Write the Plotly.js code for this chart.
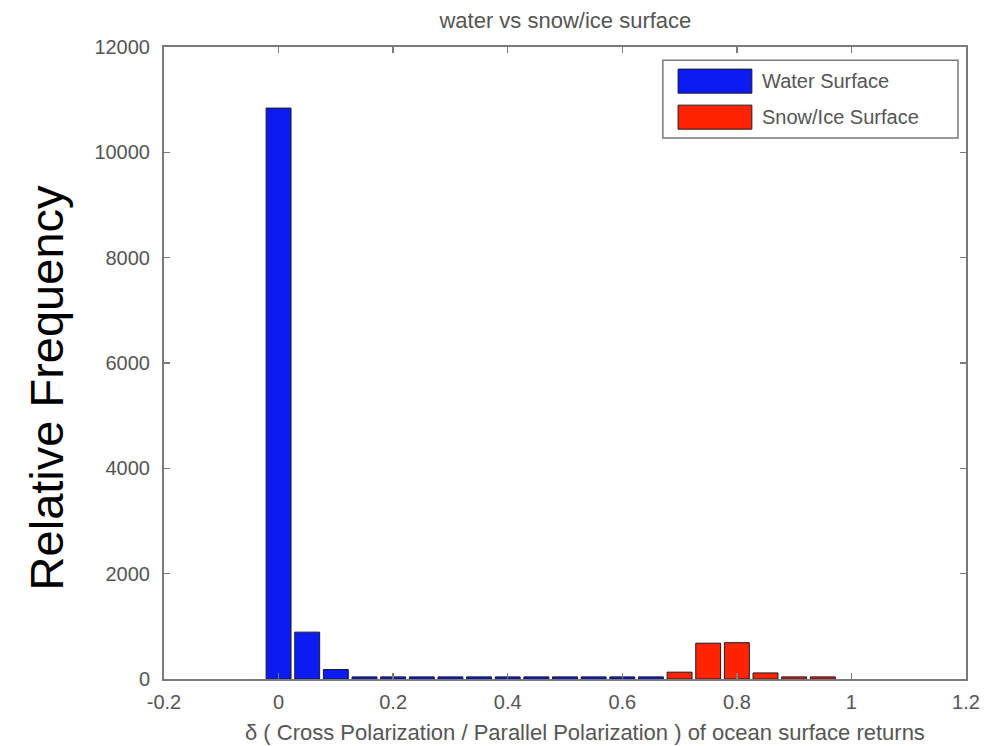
<!DOCTYPE html>
<html>
<head>
<meta charset="utf-8">
<script src="https://cdn.plot.ly/plotly-3.0.1.min.js"></script>
<style>html,body{margin:0;padding:0;background:#fff;}#chart{width:998px;height:746px;}</style>
</head>
<body>
<div id="chart"></div>
<script>
// ---- data ----
const chartTitle = "water vs snow/ice surface";
const xTitle = "\u03b4 ( Cross Polarization / Parallel Polarization ) of ocean surface returns";
const yTitle = "Relative Frequency";
const waterName = "Water Surface";
const snowName = "Snow/Ice Surface";
const waterBins = [0, 0.05, 0.1, 0.15, 0.2, 0.25, 0.3, 0.35, 0.4, 0.45, 0.5, 0.55, 0.6, 0.65];
const waterCounts = [10840, 890, 180, 40, 40, 40, 40, 40, 40, 40, 40, 40, 40, 40];
const snowBins = [0.7, 0.75, 0.8, 0.85, 0.9, 0.95];
const snowCounts = [130, 680, 690, 115, 40, 40];
const xTicks = [-0.2, 0, 0.2, 0.4, 0.6, 0.8, 1, 1.2];
const xTickText = ["-0.2", "0", "0.2", "0.4", "0.6", "0.8", "1", "1.2"];
const yTicks = [0, 2000, 4000, 6000, 8000, 10000, 12000];
const yTickText = ["0", "2000", "4000", "6000", "8000", "10000", "12000"];

// ---- style ----
const blue = "rgb(12,28,240)";
const red = "rgb(255,36,0)";
const edge = "rgb(25,25,45)";
const axisGrey = "#7a7a7a";
const textGrey = "#555555";
const fontFam = "'Liberation Sans', Arial, sans-serif";

const traces = [
  {type: "bar", x: waterBins, y: waterCounts, name: waterName,
   marker: {color: blue, line: {color: edge, width: 1}}, hoverinfo: "x+y"},
  {type: "bar", x: snowBins, y: snowCounts, name: snowName,
   marker: {color: red, line: {color: edge, width: 1}}, hoverinfo: "x+y"}
];

// legend geometry (paper coords)
const lg = {x0: 0.622, x1: 0.990, y0: 0.856, y1: 0.979};
const layout = {
  width: 998, height: 746,
  margin: {l: 164, r: 32, t: 47, b: 67, pad: 0},
  paper_bgcolor: "#fff", plot_bgcolor: "#fff",
  showlegend: false,
  barmode: "overlay", bargap: 0.13,
  font: {family: fontFam, size: 20, color: textGrey},
  title: {text: chartTitle, x: 0.5665, xanchor: "center", y: 0.973, yanchor: "middle",
          font: {family: fontFam, size: 22, color: textGrey}},
  xaxis: {range: [-0.2, 1.2], tickvals: xTicks, ticktext: xTickText,
          ticks: "inside", ticklen: 6, tickwidth: 1.5, tickcolor: axisGrey,
          showline: true, linecolor: axisGrey, linewidth: 2, mirror: "ticks",
          showgrid: false, zeroline: false, ticklabelstandoff: 4,
          tickfont: {size: 20, color: textGrey}},
  yaxis: {range: [0, 12000], tickvals: yTicks, ticktext: yTickText,
          ticks: "inside", ticklen: 6, tickwidth: 1.5, tickcolor: axisGrey,
          showline: true, linecolor: axisGrey, linewidth: 2, mirror: "ticks",
          showgrid: false, zeroline: false, ticklabelstandoff: 8,
          tickfont: {size: 20, color: textGrey}},
  shapes: [
    {type: "rect", xref: "paper", yref: "paper", x0: lg.x0, x1: lg.x1, y0: lg.y0, y1: lg.y1,
     line: {color: axisGrey, width: 1.5}, fillcolor: "#fff"},
    {type: "rect", xref: "paper", yref: "paper", x0: 0.641, x1: 0.733, y0: 0.927, y1: 0.965,
     line: {color: edge, width: 1}, fillcolor: blue},
    {type: "rect", xref: "paper", yref: "paper", x0: 0.641, x1: 0.733, y0: 0.870, y1: 0.908,
     line: {color: edge, width: 1}, fillcolor: red}
  ],
  annotations: [
    {xref: "paper", yref: "paper", x: 0.743, y: 0.946, xanchor: "left", yanchor: "middle",
     text: waterName, showarrow: false, font: {family: fontFam, size: 20, color: textGrey}},
    {xref: "paper", yref: "paper", x: 0.743, y: 0.889, xanchor: "left", yanchor: "middle",
     text: snowName, showarrow: false, font: {family: fontFam, size: 20, color: textGrey}},
    {xref: "paper", yref: "paper", x: 0.525, y: -0.084, xanchor: "center", yanchor: "middle",
     text: xTitle, showarrow: false, font: {family: fontFam, size: 22, color: textGrey}},
    {xref: "paper", yref: "paper", x: -0.147, y: 0.46, xanchor: "center", yanchor: "middle",
     textangle: -90, text: yTitle, showarrow: false,
     font: {family: fontFam, size: 47, color: "#000"}}
  ]
};

Plotly.newPlot("chart", traces, layout, {staticPlot: true, displayModeBar: false});
</script>
</body>
</html>
